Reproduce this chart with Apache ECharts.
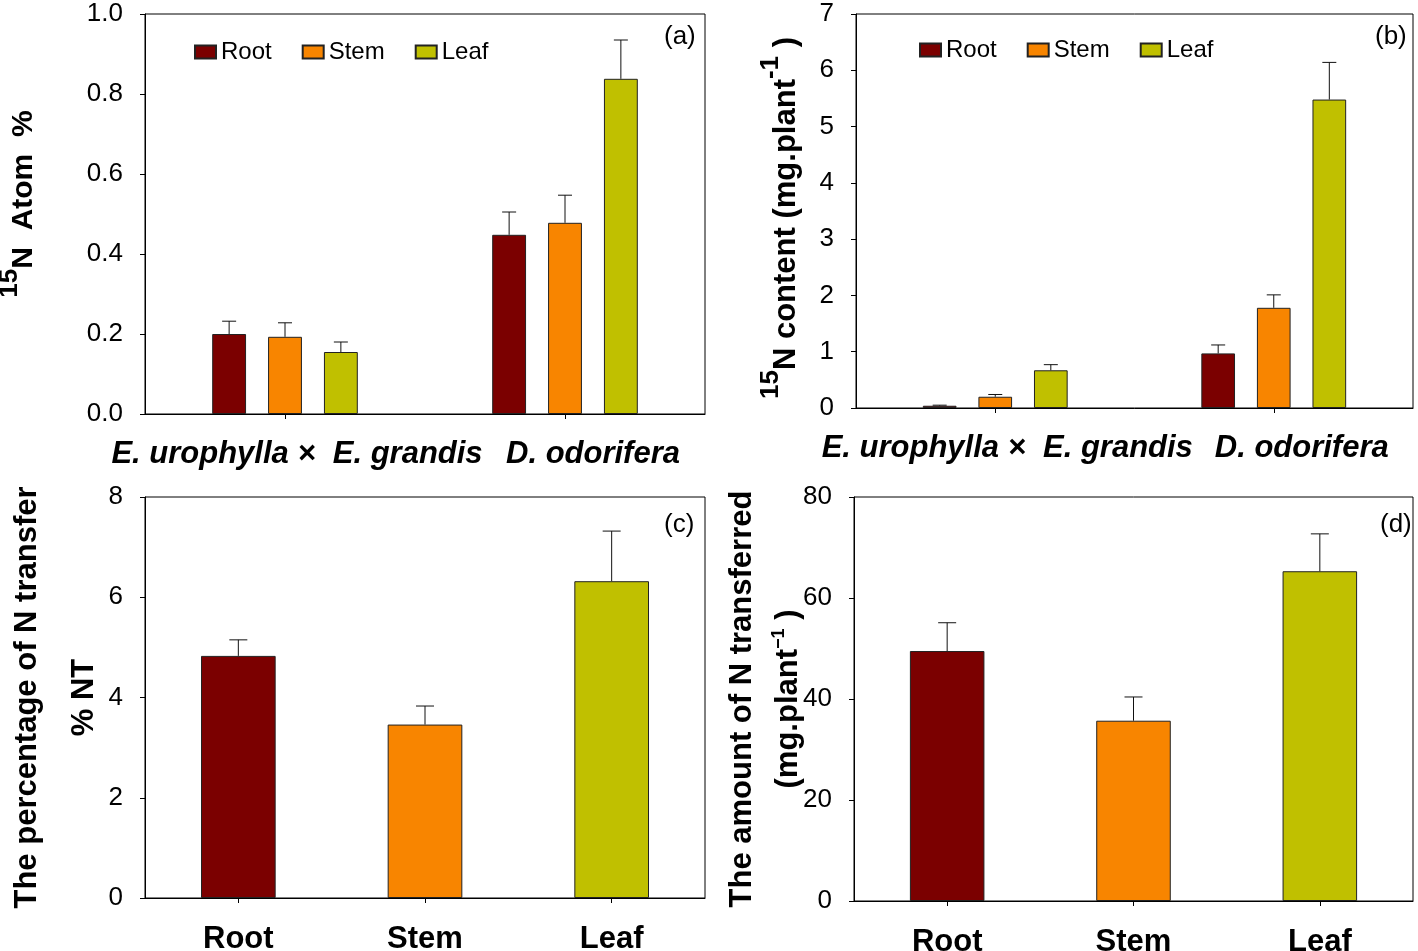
<!DOCTYPE html>
<html><head><meta charset="utf-8">
<script src="https://cdn.jsdelivr.net/npm/echarts@6/dist/echarts.min.js"></script>
<style>html,body{margin:0;padding:0;background:#fff}#c{width:1418px;height:951px}</style>
</head><body><div id="c"></div>
<script>
// ---- data ----
const speciesCats = ['E. urophylla ×  E. grandis', 'D. odorifera'];
const partCats = ['Root', 'Stem', 'Leaf'];
// panel (a) 15N atom %
const atomRoot = [0.200, 0.448];
const atomStem = [0.193, 0.478];
const atomLeaf = [0.155, 0.838];
const atomRootErr = [0.232, 0.505];
const atomStemErr = [0.228, 0.547];
const atomLeafErr = [0.180, 0.935];
// panel (b) 15N content
const contRoot = [0.04, 0.97];
const contStem = [0.20, 1.78];
const contLeaf = [0.67, 5.48];
const contRootErr = [0.05, 1.12];
const contStemErr = [0.24, 2.01];
const contLeafErr = [0.77, 6.14];
// panel (c) % NT
const ntValues = [4.83, 3.46, 6.32];
const ntErr = [5.15, 3.83, 7.32];
// panel (d) amount transferred
const amtValues = [49.5, 35.7, 65.3];
const amtErr = [55.1, 40.4, 72.7];

const colors = {Root: '#7b0000', Stem: '#f88500', Leaf: '#c0c000'};
const sans = '"Liberation Sans", Arial, sans-serif';

function errRender(pos, n, catGap, barGap, capHalf) {
  return function (params, api) {
    const c = api.value(0), v = api.value(1), hi = api.value(2);
    const p0 = api.coord([c, v]);
    const p1 = api.coord([c, hi]);
    const catW = api.size([1, 0])[0];
    const w = catW * (1 - catGap) / (n + (n - 1) * barGap);
    const x = p0[0] + (pos - (n - 1) / 2) * w * (1 + barGap);
    const st = {stroke: '#111', lineWidth: 1};
    return {type: 'group', children: [
      {type: 'line', shape: {x1: x, y1: p0[1], x2: x, y2: p1[1]}, style: st},
      {type: 'line', shape: {x1: x - capHalf, y1: p1[1], x2: x + capHalf, y2: p1[1]}, style: st}
    ]};
  };
}

const grids = [
  {left: 145, top: 14, width: 560, height: 400},
  {left: 856, top: 14, width: 557, height: 394},
  {left: 145, top: 497, width: 560, height: 401},
  {left: 854, top: 497, width: 559, height: 404}
].map(g => Object.assign(g, {show: true, borderColor: '#000', borderWidth: 1, backgroundColor: 'transparent',
  containLabel: false, outerBoundsMode: 'none'}));

const yLabel = {color: '#000', fontFamily: sans, fontSize: 26, margin: 22};
const axisLine = {show: true, lineStyle: {color: '#000', width: 1}};
const tick = {show: true, length: 5, lineStyle: {color: '#000'}};

function speciesX(gi) {
  const st = {fontFamily: sans, fontSize: 31, fontWeight: 'bold', fontStyle: 'italic', color: '#000'};
  return {
    type: 'category', gridIndex: gi, data: speciesCats,
    axisLine: axisLine, axisTick: Object.assign({alignWithLabel: true}, tick),
    axisLabel: {
      interval: 0, margin: 25,
      formatter: function (v, i) { return i === 0 ? '{a|' + v + '}' : '{b|' + v + '}'; },
      rich: {
        a: Object.assign({padding: [0, 0, 0, 24]}, st),
        b: Object.assign({padding: [0, 0, 0, 56]}, st)
      }
    }
  };
}
function partX(gi) {
  return {
    type: 'category', gridIndex: gi, data: partCats,
    axisLine: axisLine, axisTick: Object.assign({alignWithLabel: true}, tick),
    axisLabel: {interval: 0, margin: 26, color: '#000', fontFamily: sans, fontSize: 31, fontWeight: 'bold'}
  };
}

const barStyle = name => ({color: colors[name], borderColor: '#222', borderWidth: 1});
const catGapAB = 0.48, barGapAB = 0.65;

function groupSeries(gi, names, vals, errs) {
  const out = [];
  names.forEach((nm, i) => {
    out.push({
      type: 'bar', name: nm, xAxisIndex: gi, yAxisIndex: gi, data: vals[i],
      itemStyle: barStyle(nm), barGap: (barGapAB * 100) + '%', barCategoryGap: (catGapAB * 100) + '%'
    });
  });
  names.forEach((nm, i) => {
    out.push({
      type: 'custom', xAxisIndex: gi, yAxisIndex: gi, z: 5,
      renderItem: errRender(i, names.length, catGapAB, barGapAB, 7),
      data: vals[i].map((v, k) => [k, v, errs[i][k]])
    });
  });
  return out;
}

const names = ['Root', 'Stem', 'Leaf'];
const series = [].concat(
  groupSeries(0, names, [atomRoot, atomStem, atomLeaf], [atomRootErr, atomStemErr, atomLeafErr]),
  groupSeries(1, names, [contRoot, contStem, contLeaf], [contRootErr, contStemErr, contLeafErr]),
  [
    {type: 'bar', xAxisIndex: 2, yAxisIndex: 2, barCategoryGap: '60%',
      data: ntValues.map((v, i) => ({value: v, itemStyle: barStyle(partCats[i])}))},
    {type: 'custom', xAxisIndex: 2, yAxisIndex: 2, z: 5, renderItem: errRender(0, 1, 0.6, 0, 9),
      data: ntValues.map((v, i) => [i, v, ntErr[i]])},
    {type: 'bar', xAxisIndex: 3, yAxisIndex: 3, barCategoryGap: '60%',
      data: amtValues.map((v, i) => ({value: v, itemStyle: barStyle(partCats[i])}))},
    {type: 'custom', xAxisIndex: 3, yAxisIndex: 3, z: 5, renderItem: errRender(0, 1, 0.6, 0, 9),
      data: amtValues.map((v, i) => [i, v, amtErr[i]])}
  ]
);

const nameBase = {fontFamily: sans, fontWeight: 'bold', color: '#000'};

const option = {
  animation: false,
  backgroundColor: '#fff',
  grid: grids,
  title: [
    {text: '(a)', left: 659, top: 19},
    {text: '(b)', left: 1370, top: 19},
    {text: '(c)', left: 659, top: 507},
    {text: '(d)', left: 1375, top: 507}
  ].map(t => Object.assign(t, {textStyle: {fontFamily: sans, fontSize: 26, fontWeight: 'normal', color: '#000'}})),
  legend: [
    {data: names, left: 189, top: 35, itemWidth: 21, itemHeight: 13, itemGap: 30, icon: 'rect',
      textStyle: {fontFamily: sans, fontSize: 24, color: '#000'}},
    {data: names, left: 914, top: 33, itemWidth: 21, itemHeight: 13, itemGap: 30, icon: 'rect',
      textStyle: {fontFamily: sans, fontSize: 24, color: '#000'}}
  ],
  xAxis: [speciesX(0), speciesX(1), partX(2), partX(3)],
  yAxis: [
    {type: 'value', gridIndex: 0, min: 0, max: 1, interval: 0.2, splitLine: {show: false},
      axisLine: axisLine, axisTick: tick,
      axisLabel: Object.assign({formatter: v => v.toFixed(1)}, yLabel),
      name: '{sup|15}{n|N  Atom  %}', nameLocation: 'middle', nameGap: 106, nameMoveOverlap: false,
      nameTextStyle: {padding: [0, 0, 0, 20], rich: {
        sup: Object.assign({fontSize: 26, verticalAlign: 'top', lineHeight: 42}, nameBase),
        n: Object.assign({fontSize: 30, verticalAlign: 'bottom', lineHeight: 42}, nameBase)}}},
    {type: 'value', gridIndex: 1, min: 0, max: 7, interval: 1, splitLine: {show: false},
      axisLine: axisLine, axisTick: tick, axisLabel: yLabel,
      name: '{sup|15}{n|N content (mg.plant}{sup|-1}{n| )}', nameLocation: 'middle', nameGap: 54, nameMoveOverlap: false,
      nameTextStyle: {padding: [0, 14, 0, 0], rich: {
        sup: Object.assign({fontSize: 26, verticalAlign: 'top', lineHeight: 44}, nameBase),
        n: Object.assign({fontSize: 31, verticalAlign: 'bottom', lineHeight: 44}, nameBase)}}},
    {type: 'value', gridIndex: 2, min: 0, max: 8, interval: 2, splitLine: {show: false},
      axisLine: axisLine, axisTick: tick, axisLabel: yLabel,
      name: 'The percentage of N transfer\n% NT', nameLocation: 'middle', nameGap: 32, nameMoveOverlap: false,
      nameTextStyle: Object.assign({fontSize: 31, lineHeight: 57}, nameBase)},
    {type: 'value', gridIndex: 3, min: 0, max: 80, interval: 20, splitLine: {show: false},
      axisLine: axisLine, axisTick: tick, axisLabel: yLabel,
      name: '{t|The amount of N transferred}\n{n|(mg.plant}{sup|−1}{n| )}', nameLocation: 'middle', nameGap: 50, nameMoveOverlap: false,
      nameTextStyle: {rich: {
        t: Object.assign({fontSize: 31, verticalAlign: 'top', lineHeight: 43}, nameBase),
        sup: Object.assign({fontSize: 18, verticalAlign: 'top', lineHeight: 34}, nameBase),
        n: Object.assign({fontSize: 31, verticalAlign: 'bottom', lineHeight: 34}, nameBase)}}}
  ],
  series: series
};

const chart = echarts.init(document.getElementById('c'), null, {renderer: 'canvas'});
chart.setOption(option);
</script>
</body></html>
